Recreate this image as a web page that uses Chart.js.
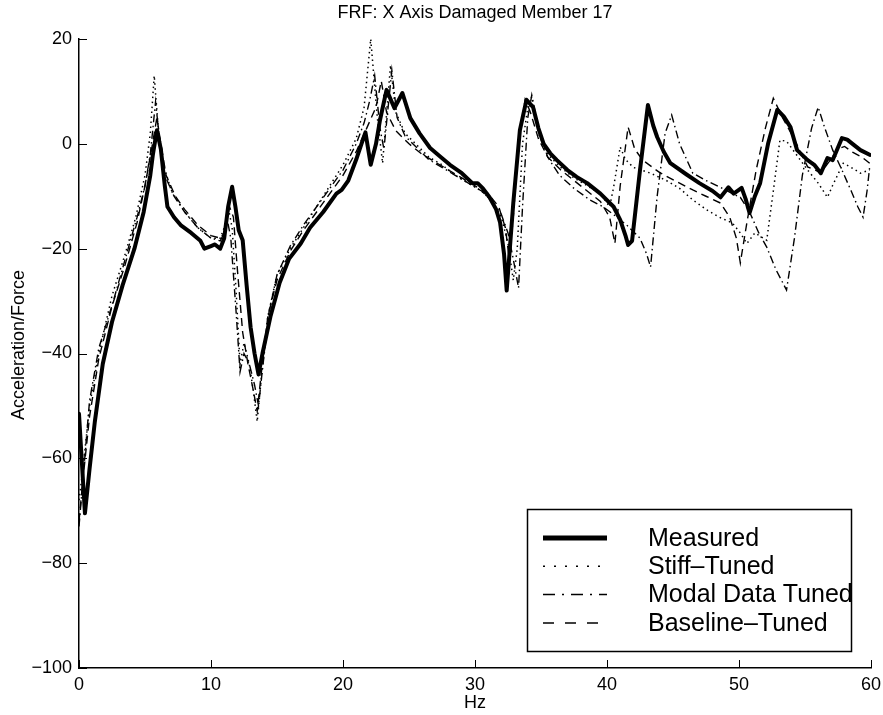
<!DOCTYPE html>
<html>
<head>
<meta charset="utf-8">
<title>FRF: X Axis Damaged Member 17</title>
<script src="https://cdn.jsdelivr.net/npm/chart.js@4.4.1/dist/chart.umd.min.js"></script>
<style>
  html, body { margin: 0; padding: 0; background: #fff; }
  #wrap { width: 883px; height: 715px; }
</style>
</head>
<body>
<div id="wrap"><canvas id="frfChart" width="883" height="715"></canvas></div>
<script>
// ---- data (Hz vs acceleration/force, dB) ----
const chartTitle = 'FRF: X Axis Damaged Member 17';
const xTitle = 'Hz';
const yTitle = 'Acceleration/Force';
const seriesNames = ['Measured', 'Stiff\u2013Tuned', 'Modal Data Tuned', 'Baseline\u2013Tuned'];
const xTicks = [0, 10, 20, 30, 40, 50, 60];
const yTicks = [-100, -80, -60, -40, -20, 0, 20];

const measuredHz = [0, 0.2, 0.45, 0.8, 1.2, 1.8, 2.5, 3.3, 4.2, 4.9, 5.4, 5.6, 5.9, 6.2, 6.5, 6.7, 7.2, 7.7, 8.5, 9.2,
  9.5, 10.0, 10.3, 10.7, 11.0, 11.3, 11.6, 11.85, 12.1, 12.4, 12.7, 13.0, 13.3, 13.6, 13.9, 14.5, 15.2, 15.9, 16.8, 17.5,
  18.5, 19.5, 19.9, 20.4, 21.0, 21.4, 21.7, 22.1, 22.5, 22.8, 23.3, 23.9, 24.5, 25.1, 25.8, 26.6, 27.4, 28.1, 29.0, 29.8,
  30.2, 30.6, 31.1, 31.6, 31.9, 32.2, 32.4, 32.9, 33.4, 33.9, 34.4, 34.8, 35.2, 35.7, 36.2, 37.0, 37.7, 38.5, 39.5, 40.5,
  41.0, 41.4, 41.6, 41.9, 42.5, 43.1, 43.5, 43.8, 44.3, 44.8, 46.0, 47.0, 48.0, 48.6, 49.2, 49.6, 50.2, 50.5, 50.8, 51.2,
  51.6, 52.2, 52.9, 53.4, 53.9, 54.4, 55.2, 55.7, 56.2, 56.7, 57.1, 57.8, 58.2, 58.6, 59.2, 59.9];
const measuredAcc = [-51.5, -60, -70.5, -62, -53, -42, -34, -27, -20, -13, -6, -2, 2.6, -1, -8, -12, -14, -15.5, -17, -18.5,
  -20, -19.5, -19.2, -20, -18, -12, -8.2, -12, -16.5, -18.4, -27, -35, -40, -44, -40, -33, -26.5, -22, -19, -16,
  -13, -9.5, -8.8, -7, -3, 0, 2.2, -4, 0, 4.5, 10.3, 6.8, 9.7, 4.9, 2, -0.8, -2.5, -4, -5.6, -7.5,
  -7.5, -8.5, -10.2, -12.5, -15, -21, -28, -11.3, 2.6, 8.4, 7, 3, 0, -1.8, -3.1, -5, -6.3, -7.5, -9.5, -12,
  -14.5, -17.5, -19.3, -18.5, -5, 7.4, 3.5, 1.3, -1.5, -3.7, -5.8, -7.5, -9, -10.2, -8.3, -9.5, -8.4, -10.5, -13.2, -10,
  -7.5, 0, 6.5, 5.2, 3.2, -1.2, -3.1, -4, -5.6, -2.7, -3.1, 1.1, 0.8, 0, -1.2, -2.1];

const stiffHz = [0, 0.3, 0.8, 1.5, 2.5, 3.5, 4.3, 5.0, 5.4, 5.7, 6.0, 6.4, 7.0, 8.0, 9.0, 10.0, 10.7, 11.0, 11.3, 11.6,
  11.9, 12.2, 12.5, 12.9, 13.2, 13.5, 13.8, 14.3, 15.0, 16.0, 17.0, 18.0, 19.0, 20.0, 21.0, 21.6, 22.1, 22.6, 23.0, 23.6,
  24.0, 24.7, 25.5, 26.5, 27.5, 28.5, 29.5, 30.5, 31.3, 32.0, 32.5, 32.9, 33.2, 33.6, 34.0, 34.3, 34.8, 35.5, 36.5, 37.5,
  38.5, 39.5, 40.2, 40.5, 41.0, 41.4, 42.0, 43.3, 44.5, 45.5, 46.5, 47.5, 48.5, 49.5, 50.1, 50.6, 51.2, 52.1, 52.6, 53.1,
  53.6, 54.1, 55.2, 56.0, 56.7, 57.1, 57.9, 58.5, 59.2, 59.9];
const stiffAcc = [-68, -62, -50, -40, -29, -21, -14, -6, 2, 13, 3, -4, -9, -13, -16, -18, -18, -16, -12, -16,
  -28, -42, -38, -42, -47, -53, -45, -33, -25, -20, -16, -12, -8, -4, 1, 7, 20, 5, -3.7, 15,
  6, 2, 0, -2.5, -4, -6, -7.5, -9, -11, -14, -19, -26, -20, 0, 7, 9, 2, -2, -4.5, -6.5,
  -8, -9.5, -12, -8.3, -0.6, -3, -4.5, -5.6, -7, -8.5, -10.7, -12.5, -14, -15.1, -17, -19, -17, -18.4, -9, 0.7,
  0.5, -1.2, -5, -7.5, -10.2, -7.9, -3.7, -4.5, -5.6, -5];

const modalHz = [0, 0.2, 0.8, 1.5, 2.6, 3.5, 4.4, 5.0, 5.4, 5.8, 6.1, 6.5, 7.2, 8.0, 9.0, 10.0, 10.7, 11.0, 11.2, 11.5,
  11.9, 12.2, 12.5, 12.9, 13.3, 13.6, 13.9, 14.4, 15.0, 16.0, 17.0, 18.0, 19.0, 20.0, 21.0, 21.6, 22.0, 22.4, 22.8, 23.1,
  23.7, 24.1, 24.7, 25.5, 26.5, 27.5, 28.5, 29.5, 30.5, 31.3, 32.0, 32.5, 32.9, 33.3, 33.6, 34.0, 34.3, 34.8, 35.5, 36.4,
  37.5, 38.7, 39.7, 40.5, 41.5, 42.5, 43.0, 43.3, 43.8, 44.4, 44.9, 45.5, 46.5, 47.5, 48.6, 49.5, 50.1, 50.8, 51.5, 52.1,
  52.8, 53.6, 54.2, 54.8, 55.5, 56.0, 56.5, 57.1, 57.8, 58.5, 59.0, 59.4, 59.7, 59.9];
const modalAcc = [-73, -67, -49, -39, -30, -22, -14, -8, -2, 8, 1, -6, -10, -13, -16, -18, -18.5, -17, -14, -18,
  -32, -43.5, -40, -42, -46, -50, -43, -32, -25, -19.5, -15.5, -12, -8.5, -5, 0, 4, 8, 13, 3, -1,
  14, 5, 1.5, -0.5, -3, -4.5, -6, -7.5, -9, -11, -13.5, -17, -22, -27.5, -12, 5, 9.3, 3, -2.5, -6,
  -8.5, -10.7, -12, -13.5, -15.5, -18, -21, -23.5, -10, 2, 5.5, 0, -5.6, -7, -8.3, -9.5, -10.2, -13, -17, -19.7,
  -24, -27.9, -18, -6, 3, 7, 3, -1.2, -5, -9, -12, -14, -9, -4.4];

const baselineHz = [0, 0.3, 0.8, 1.5, 2.5, 3.5, 4.4, 5.0, 5.5, 5.9, 6.2, 6.6, 7.3, 8.0, 9.0, 10.0, 10.7, 11.0, 11.4, 11.7,
  12.0, 12.4, 12.8, 13.2, 13.5, 13.8, 14.3, 15.0, 16.0, 17.0, 18.0, 19.0, 20.0, 21.0, 21.8, 22.5, 22.9, 23.3, 24.0, 25.0,
  26.0, 27.0, 28.0, 29.0, 30.0, 31.0, 31.8, 32.3, 32.6, 32.9, 33.3, 33.8, 34.2, 34.8, 35.5, 36.5, 37.5, 38.5, 39.5, 40.2,
  40.6, 41.0, 41.6, 42.1, 42.7, 44.0, 45.5, 46.5, 47.5, 48.6, 49.3, 49.8, 50.1, 50.6, 51.3, 52.0, 52.6, 53.3, 54.1, 55.2,
  56.2, 56.8, 57.5, 58.0, 58.6, 59.3, 59.9];
const baselineAcc = [-72, -64, -52, -41, -31, -23, -15, -8, -1, 5, 0, -6, -10, -12.5, -15.5, -17.5, -18, -17, -12, -14,
  -24, -36, -42, -47, -51, -44, -33, -26, -20.5, -16.5, -13, -9.5, -6, -1.5, 3, 7, 12, 6, 2.5, 0,
  -2, -3.5, -5, -6.5, -8, -9.5, -12, -16, -22, -14, 0, 8.5, 6, 1, -2.5, -5, -7, -9, -11, -14,
  -19, -8, 3.2, -1, -3.1, -5.5, -7.5, -8.8, -10, -11.3, -14, -18, -22.7, -15, -5, 3, 8.7, 5, 1.3, -4.4,
  -5.5, -3.5, -1, -0.5, -1.6, -2.5, -3.7];

// ---- helpers ----
const FONT = "'Liberation Sans', Arial, Helvetica, sans-serif";
Chart.defaults.font.family = FONT;
Chart.defaults.color = '#000';

function toPoints(xs, ys) {
    return xs.map((x, i) => ({ x: x, y: ys[i] }));
}

function minusLabel(v) {
    return v < 0 ? '\u2212' + Math.abs(v) : String(v);
}

// legend line samples use longer dashes than the plotted curves
const legendDash = [[], [2, 9], [12, 7, 2, 7], [11, 11]];
const legendWidth = [5, 1.5, 1.5, 1.5];

const frfDecor = {
    id: 'frfDecor',
    afterDraw(chart) {
        const ctx = chart.ctx;
        const area = chart.chartArea;
        const xs = chart.scales.x;
        const ys = chart.scales.y;
        ctx.save();
        ctx.strokeStyle = '#000';
        ctx.fillStyle = '#000';
        ctx.lineWidth = 1;

        // inward tick marks (matlab style)
        ctx.beginPath();
        xs.ticks.forEach(t => {
            const px = Math.round(xs.getPixelForValue(t.value)) + 0.5;
            ctx.moveTo(px, area.bottom);
            ctx.lineTo(px, area.bottom - 8);
        });
        ys.ticks.forEach(t => {
            const py = Math.round(ys.getPixelForValue(t.value)) + 0.5;
            ctx.moveTo(area.left, py);
            ctx.lineTo(area.left + 8, py);
        });
        ctx.stroke();

        // title + axis titles
        const midX = (area.left + area.right) / 2;
        ctx.textAlign = 'center';
        ctx.textBaseline = 'middle';
        ctx.font = '18px ' + FONT;
        ctx.fillText(chartTitle, midX, 13);
        ctx.fillText(xTitle, midX, 703);
        ctx.save();
        ctx.translate(19, 345);
        ctx.rotate(-Math.PI / 2);
        ctx.fillText(yTitle, 0, 0);
        ctx.restore();

        // legend box
        const bx = 527, by = 509, bw = 324, bh = 142;
        ctx.fillStyle = '#fff';
        ctx.fillRect(bx, by, bw, bh);
        ctx.fillStyle = '#000';
        ctx.font = '25px ' + FONT;
        ctx.textAlign = 'left';
        chart.data.datasets.forEach((ds, i) => {
            const y = 538 + i * 28.3;
            ctx.save();
            ctx.lineWidth = legendWidth[i];
            ctx.setLineDash(legendDash[i]);
            ctx.beginPath();
            ctx.moveTo(543, y);
            ctx.lineTo(607, y);
            ctx.stroke();
            ctx.restore();
            ctx.fillText(ds.label, 648, y + 1);
        });
        ctx.lineWidth = 1.5;
        ctx.strokeRect(bx + 0.5, by + 0.5, bw, bh);
        ctx.restore();
    }
};

const ctx = document.getElementById('frfChart').getContext('2d');
const frfChart = new Chart(ctx, {
    type: 'line',
    data: {
        datasets: [
            {
                label: seriesNames[0],
                data: toPoints(measuredHz, measuredAcc),
                borderColor: '#000',
                borderWidth: 4,
                borderJoinStyle: 'round',
                borderCapStyle: 'round',
                order: 0
            },
            {
                label: seriesNames[1],
                data: toPoints(stiffHz, stiffAcc),
                borderColor: '#000',
                borderWidth: 1.5,
                borderDash: [1.5, 3.5],
                order: 1
            },
            {
                label: seriesNames[2],
                data: toPoints(modalHz, modalAcc),
                borderColor: '#000',
                borderWidth: 1.4,
                borderDash: [8, 3.5, 1.5, 3.5],
                order: 2
            },
            {
                label: seriesNames[3],
                data: toPoints(baselineHz, baselineAcc),
                borderColor: '#000',
                borderWidth: 1.4,
                borderDash: [8, 5],
                order: 3
            }
        ]
    },
    options: {
        responsive: false,
        animation: false,
        devicePixelRatio: 1,
        layout: { padding: { top: 39, right: 12, left: 0, bottom: 0 } },
        elements: {
            point: { radius: 0, hoverRadius: 0 },
            line: { tension: 0, fill: false }
        },
        plugins: {
            legend: { display: false },
            title: { display: false },
            tooltip: { enabled: false }
        },
        scales: {
            x: {
                type: 'linear',
                min: 0,
                max: 60,
                afterBuildTicks: s => { s.ticks = xTicks.map(v => ({ value: v })); },
                afterFit: s => { s.height = 47; s.paddingLeft = 0; s.paddingRight = 0; },
                grid: { display: false, drawTicks: false },
                border: { display: true, color: '#000', width: 1.5 },
                ticks: { padding: 6, maxRotation: 0, font: { size: 18 }, color: '#000' }
            },
            y: {
                type: 'linear',
                min: -100,
                max: 20,
                afterBuildTicks: s => { s.ticks = yTicks.map(v => ({ value: v })); },
                afterFit: s => { s.width = 79; s.paddingTop = 0; s.paddingBottom = 0; },
                grid: { display: false, drawTicks: false },
                border: { display: true, color: '#000', width: 1.5 },
                ticks: { padding: 7, font: { size: 18 }, color: '#000', callback: minusLabel }
            }
        }
    },
    plugins: [frfDecor]
});
</script>
</body>
</html>
